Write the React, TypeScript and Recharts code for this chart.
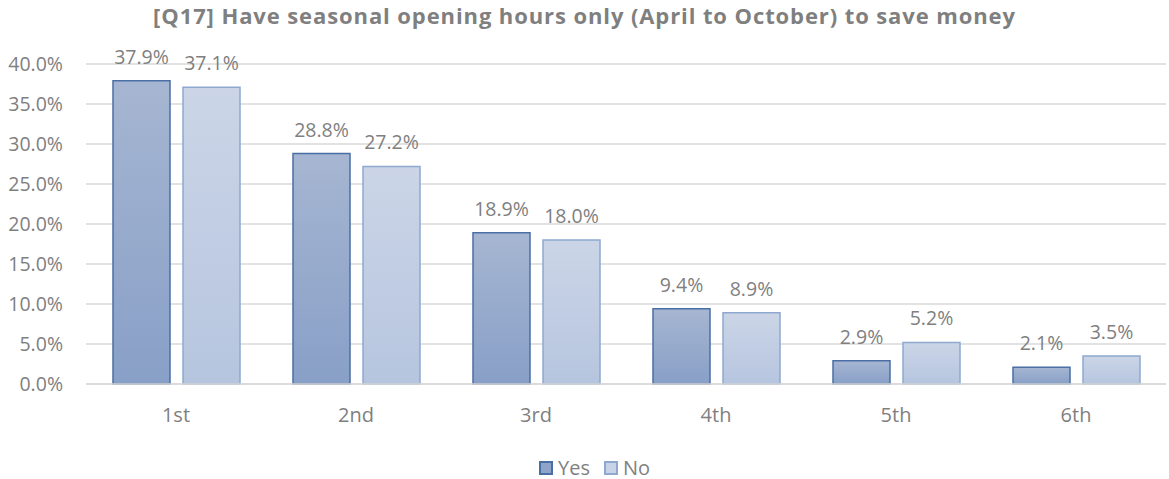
import React from 'react';
import { BarChart, Bar, XAxis, YAxis, CartesianGrid, LabelList } from 'recharts';

const ranks = ['1st', '2nd', '3rd', '4th', '5th', '6th'];
const yesValues = [37.9, 28.8, 18.9, 9.4, 2.9, 2.1];
const noValues = [37.1, 27.2, 18.0, 8.9, 5.2, 3.5];
const yTicks = [0, 5, 10, 15, 20, 25, 30, 35, 40];

const data = ranks.map((rank, i) => ({ rank, yes: yesValues[i], no: noValues[i] }));

const font = '"Open Sans", sans-serif';
const textGray = '#7f7f7f';
const pct = (v: number) => `${Number(v).toFixed(1)}%`;

function LegendBox() {
  const items = [
    { name: 'Yes', fill: '#8fa4cb', stroke: '#4a6fa5' },
    { name: 'No', fill: '#c8d3e7', stroke: '#8fa8d0' },
  ];
  return (
    <div
      style={{
        position: 'absolute',
        left: 539,
        top: 458,
        display: 'flex',
        gap: 14,
        fontFamily: font,
        fontSize: 20,
        lineHeight: '20px',
        color: textGray,
      }}
    >
      {items.map((it) => (
        <div key={it.name} style={{ display: 'flex', alignItems: 'center', gap: 5 }}>
          <svg width={14} height={14}>
            <rect x={1} y={1} width={12} height={12} fill={it.fill} stroke={it.stroke} strokeWidth={2} />
          </svg>
          <span>{it.name}</span>
        </div>
      ))}
    </div>
  );
}

export default function App() {
  return (
    <div style={{ position: 'absolute', left: 0, top: 0, width: 1169, height: 479, background: '#fff' }}>
      <div
        style={{
          position: 'absolute',
          top: 0,
          left: 0,
          width: 1169,
          textAlign: 'center',
          fontFamily: font,
          fontWeight: 700,
          fontSize: 22,
          lineHeight: '30px',
          letterSpacing: 0.9,
          color: textGray,
        }}
      >
        [Q17] Have seasonal opening hours only (April to October) to save money
      </div>
      <BarChart
        width={1169}
        height={479}
        data={data}
        margin={{ top: 64, right: 3, left: 0, bottom: 65 }}
        barSize={57}
        barGap={13}
      >
        <defs>
          <linearGradient id="gradYes" x1="0" y1="0" x2="0" y2="1">
            <stop offset="0%" stopColor="#a6b6d2" />
            <stop offset="100%" stopColor="#889fc7" />
          </linearGradient>
          <linearGradient id="gradNo" x1="0" y1="0" x2="0" y2="1">
            <stop offset="0%" stopColor="#cbd5e7" />
            <stop offset="100%" stopColor="#b6c5df" />
          </linearGradient>
        </defs>
        <CartesianGrid vertical={false} stroke="#d9d9d9" strokeWidth={1.5} />
        <XAxis
          dataKey="rank"
          height={30}
          axisLine={{ stroke: '#d9d9d9', strokeWidth: 1.5 }}
          tickLine={false}
          tick={{ fontSize: 20, fill: textGray, fontFamily: font }}
          tickMargin={18}
        />
        <YAxis
          width={86}
          domain={[0, 40]}
          ticks={yTicks}
          axisLine={false}
          tickLine={false}
          tick={{ fontSize: 19.5, fill: textGray, fontFamily: font }}
          tickFormatter={pct}
          tickMargin={17}
        />
        <Bar dataKey="yes" name="Yes" fill="url(#gradYes)" stroke="#4a6fa5" strokeWidth={1.5} isAnimationActive={false}>
          <LabelList
            dataKey="yes"
            position="top"
            offset={17}
            formatter={pct}
            style={{ fontSize: 19.5, fill: textGray, fontFamily: font }}
          />
        </Bar>
        <Bar dataKey="no" name="No" fill="url(#gradNo)" stroke="#8fa8d0" strokeWidth={1.5} isAnimationActive={false}>
          <LabelList
            dataKey="no"
            position="top"
            offset={17}
            formatter={pct}
            style={{ fontSize: 19.5, fill: textGray, fontFamily: font }}
          />
        </Bar>
      </BarChart>
      <LegendBox />
    </div>
  );
}
